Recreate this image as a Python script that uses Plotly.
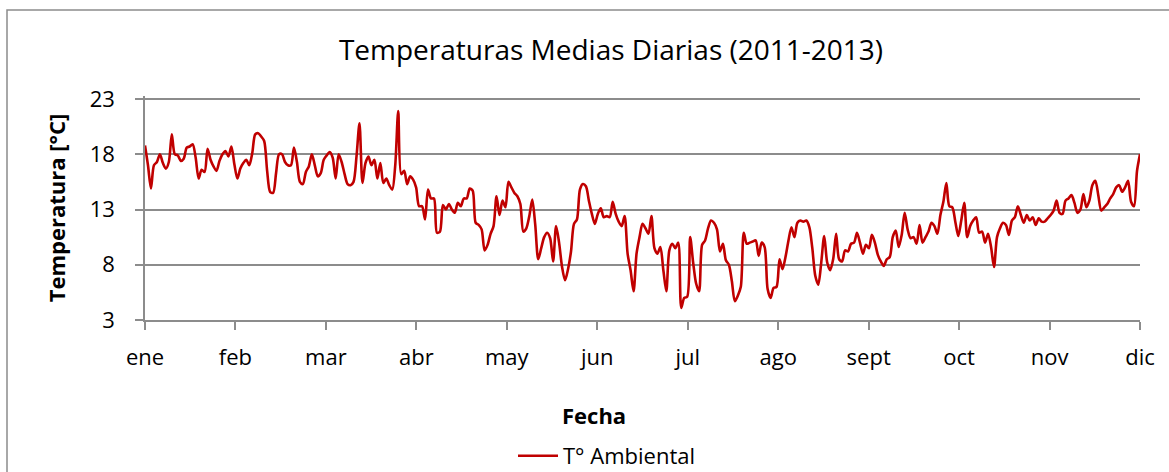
import plotly.graph_objects as go

# Month labels shown on the category axis
month_labels = ["ene", "feb", "mar", "abr", "may", "jun", "jul", "ago", "sept", "oct", "nov", "dic"]

# Daily mean temperatures (°C), grouped by the interval that starts at each month tick
t_ene = [18.8, 17.0, 14.9, 17.0, 17.3, 18.0, 17.2, 16.7, 17.3, 19.8, 18.0, 17.9, 17.4, 17.6, 18.6,
         18.7, 18.9, 17.7, 15.8, 16.6, 16.4, 18.5, 17.5, 16.9, 16.5, 17.4, 18.0, 18.3, 17.8, 18.7, 17.1]
t_feb = [15.8, 16.7, 17.2, 17.5, 17.0, 18.1, 19.8, 19.9, 19.6, 19.2, 16.5, 14.6, 14.5, 16.3, 18.0,
         18.0, 17.3, 17.0, 17.0, 18.6, 17.3, 15.5, 15.3, 16.4, 16.9, 18.0, 17.0, 16.0, 16.3, 17.5]
t_mar = [17.9, 18.2, 17.7, 15.8, 18.0, 17.3, 16.2, 15.3, 15.2, 15.5, 17.8, 20.8, 15.4, 17.2, 17.8,
         17.0, 17.5, 15.8, 17.2, 15.4, 15.8, 15.2, 14.8, 17.0, 21.9, 16.2, 16.5, 15.3, 16.0, 15.7, 15.0]
t_abr = [13.3, 13.3, 12.1, 14.8, 14.0, 14.0, 10.9, 11.0, 13.4, 13.0, 13.5, 13.0, 12.7, 13.6, 13.3,
         14.0, 14.0, 14.9, 14.7, 11.8, 11.6, 11.2, 9.3, 9.8, 10.8, 11.5, 14.2, 12.5, 13.8, 13.2]
t_may = [15.5, 15.0, 14.5, 14.2, 13.5, 11.0, 11.3, 12.4, 13.9, 11.6, 8.5, 9.5, 10.5, 10.9, 10.4,
         8.3, 11.5, 10.0, 7.8, 6.6, 7.6, 9.2, 11.7, 12.1, 14.8, 15.3, 15.1, 13.8, 12.6, 11.7]
t_jun = [12.6, 13.1, 12.3, 12.4, 12.3, 13.7, 12.6, 11.9, 11.5, 12.4, 9.0, 7.5, 5.6, 9.0, 10.5,
         11.7, 11.3, 10.8, 12.4, 9.5, 9.0, 9.6, 7.5, 5.6, 9.3, 9.9, 9.5, 10.0, 4.1, 5.0, 5.1]
t_jul = [10.5, 8.2, 6.3, 5.6, 9.8, 10.2, 11.3, 12.0, 11.8, 11.2, 9.2, 9.9, 8.4, 8.0, 6.5,
         4.7, 5.2, 6.0, 10.9, 9.9, 10.0, 10.1, 10.2, 8.8, 10.0, 9.6, 5.8, 5.0, 5.9, 6.0]
t_ago = [8.5, 7.6, 8.7, 10.2, 11.4, 10.5, 11.8, 12.0, 11.9, 12.0, 11.4, 9.5, 7.0, 6.2, 8.2,
         10.6, 8.2, 7.5, 8.5, 10.8, 8.5, 8.3, 9.3, 9.2, 9.9, 10.0, 10.9, 10.0, 9.0, 9.8]
t_sept = [9.5, 10.7, 10.0, 8.9, 8.3, 7.9, 8.5, 8.7, 10.5, 11.1, 9.6, 10.7, 12.7, 11.2, 10.4,
          10.5, 9.9, 11.6, 10.0, 10.5, 11.0, 11.8, 11.5, 10.8, 12.5, 13.7, 15.4, 13.3, 13.2, 11.9, 10.6]
t_oct = [12.0, 13.6, 10.5, 11.5, 12.0, 12.3, 10.9, 11.0, 10.0, 10.8, 9.6, 7.8, 10.5, 11.3, 11.8,
         11.6, 10.7, 12.0, 12.3, 13.3, 12.5, 11.8, 12.5, 12.0, 12.3, 11.6, 12.2, 11.9, 11.9, 12.2]
t_nov = [12.5, 12.9, 13.8, 12.7, 12.6, 13.8, 14.0, 14.3, 13.6, 12.7, 13.0, 14.4, 13.2, 13.8, 15.2,
         15.6, 14.3, 12.9, 13.2, 13.5, 14.0, 14.4, 15.0, 15.2, 14.6, 15.0, 15.6, 13.7, 13.3, 16.5, 18.0]

y_ticks = [3, 8, 13, 18, 23]
series_name = "T° Ambiental"

temps = t_ene + t_feb + t_mar + t_abr + t_may + t_jun + t_jul + t_ago + t_sept + t_oct + t_nov
days = list(range(len(temps)))
last = len(temps) - 1
month_ticks = [i * last / (len(month_labels) - 1) for i in range(len(month_labels))]

W, H = 1169, 472
PLOT_TOP, PLOT_BOTTOM = 99, 320          # pixel rows of the 23 and 3 gridlines
L, R, T = 145, 29, 96                    # plot top sits a bit above the 23 gridline so it stays visible
B = H - PLOT_BOTTOM
ppd = (PLOT_BOTTOM - PLOT_TOP) / (y_ticks[-1] - y_ticks[0])
y_top = y_ticks[-1] + (PLOT_TOP - T) / ppd
GRID = "#8C8C8C"
FONT = "Open Sans"

fig = go.Figure()
fig.add_trace(go.Scatter(
    x=days, y=temps, mode="lines", name=series_name,
    line=dict(color="#C00000", width=2.6, shape="spline", smoothing=0.8),
    cliponaxis=False, hoverinfo="skip",
))

def px_x(px):
    return (px - L) / (W - L - R)

def px_y(py):
    return (H - B - py) / (H - T - B)

fig.update_layout(
    width=W, height=H,
    margin=dict(l=L, r=R, t=T, b=B, pad=0),
    paper_bgcolor="white", plot_bgcolor="white",
    font=dict(family=FONT, color="black", size=22),
    title=dict(text="Temperaturas Medias Diarias (2011-2013)", x=611 / W, xanchor="center",
               y=1 - 50 / H, yanchor="middle", yref="container",
               font=dict(family=FONT, size=28, color="black")),
    showlegend=True,
    legend=dict(orientation="h", xref="container", yref="container",
                x=(555 - 42) / W, xanchor="left", y=1 - 456 / H, yanchor="middle",
                font=dict(family=FONT, size=22, color="black"), bgcolor="rgba(0,0,0,0)",
                itemwidth=40),
    xaxis=dict(range=[0, last], tickmode="array", tickvals=month_ticks, ticktext=month_labels,
               showgrid=False, zeroline=False, showline=True, linecolor=GRID, linewidth=1.5,
               ticks="outside", ticklen=8, tickwidth=1.5, tickcolor=GRID,
               tickfont=dict(family=FONT, size=22, color="black"), ticklabelstandoff=9),
    yaxis=dict(range=[y_ticks[0], y_top], tickmode="array", tickvals=y_ticks,
               showgrid=True, gridcolor=GRID, gridwidth=1.5, zeroline=False,
               showline=True, linecolor=GRID, linewidth=1.5,
               ticks="outside", ticklen=8, tickwidth=1.5, tickcolor=GRID,
               tickfont=dict(family=FONT, size=22, color="black"), ticklabelstandoff=16,
               title=dict(text="<b>Temperatura [°C]</b>", standoff=18,
                          font=dict(family=FONT, size=22, color="black"))),
    annotations=[dict(text="<b>Fecha</b>", xref="paper", yref="paper",
                      x=px_x(594), y=px_y(415), xanchor="center", yanchor="middle",
                      showarrow=False, font=dict(family=FONT, size=22, color="black"))],
    shapes=[dict(type="rect", xref="paper", yref="paper",
                 x0=px_x(7), x1=px_x(W + 20), y0=px_y(H + 20), y1=px_y(10),
                 line=dict(color=GRID, width=1.5), fillcolor="rgba(0,0,0,0)", layer="below")],
)

fig.write_html("out.html", config={"displayModeBar": False},
               post_script="document.body.style.margin='0';document.body.style.overflow='hidden';")
